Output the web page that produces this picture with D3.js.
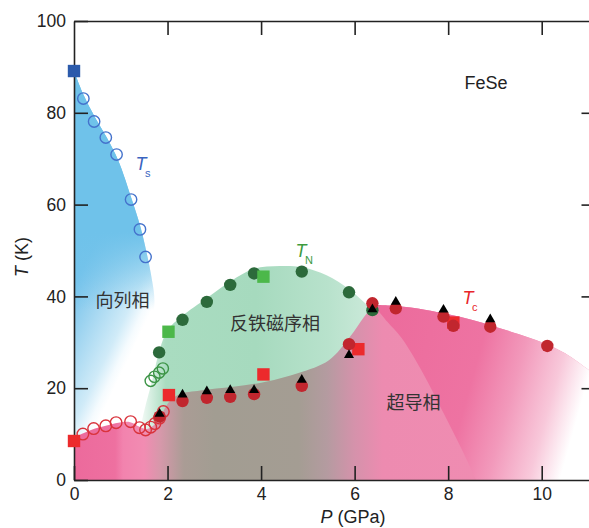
<!DOCTYPE html>
<html>
<head>
<meta charset="utf-8">
<script src="https://cdn.jsdelivr.net/npm/d3@7"></script>
<style>
  body { margin: 0; background: #fff; }
  svg { display: block; }
  text { font-family: "Liberation Sans", Arial, sans-serif; }
  .cn { font-family: "Noto Sans CJK SC", sans-serif; }
</style>
</head>
<body>
<svg id="chart" width="589" height="528"></svg>
<script>
// FeSe pressure phase diagram: [P (GPa), T (K)]

// Ts (nematic)
const tsSquare = [[0, 89.1]]
const tsOpen = [[0.2, 83.1], [0.43, 78.1], [0.68, 74.6], [0.91, 70.9], [1.22, 61.1], [1.41, 54.6], [1.53, 48.6]]

// TN (antiferro)
const tnOpen = [[1.64, 21.6], [1.72, 22.5], [1.82, 23.4], [1.9, 24.3]]
const tnFilled = [[1.82, 27.8], [2.32, 34.9], [2.84, 38.8], [3.34, 42.5], [3.85, 45.0], [4.87, 45.4], [5.88, 40.9], [6.38, 37.0]]
const tnSquare = [[2.02, 32.3], [4.05, 44.3]]

// Tc (superconducting)
const tcOpen = [[0.19, 10.0], [0.42, 11.2], [0.68, 11.8], [0.9, 12.5], [1.21, 12.7], [1.4, 11.4], [1.53, 10.9],
  [1.64, 11.5], [1.73, 12.3], [1.83, 13.5], [1.91, 14.9]]
const tcSquare = [[0, 8.5], [2.03, 18.5], [4.05, 23.0], [6.08, 28.5], [8.11, 34.3]]
const tcFilled = [[1.83, 13.8], [2.32, 17.2], [2.84, 17.9], [3.34, 18.1], [3.85, 18.7], [4.87, 20.5], [5.88, 29.6],
  [6.38, 38.5], [6.88, 37.4], [7.9, 35.6], [8.11, 33.6], [8.9, 33.4], [10.12, 29.2]]
const tcTriangle = [[1.83, 14.4], [2.32, 18.6], [2.84, 19.3], [3.34, 19.6], [3.85, 19.6], [4.87, 21.8], [5.88, 27.2],
  [6.38, 37.2], [6.88, 38.8], [7.9, 37.1], [8.9, 35.0]]

// phase boundaries (shaded regions)
const nematicEdge = [[0, 89.1], [0.2, 84], [0.45, 79], [0.7, 74.6], [0.95, 69.5], [1.22, 61.6], [1.42, 55.2], [1.56, 49.2],
  [1.66, 44], [1.72, 39], [1.62, 31], [1.42, 22], [1.18, 12], [1.0, 0]]
const afmEdge = [[1.35, 8], [1.5, 15], [1.68, 22], [1.83, 28.3], [2.0, 32.6], [2.3, 35.6], [2.85, 39.7], [3.35, 43.3],
  [3.85, 46.0], [4.4, 46.6], [4.9, 46.3], [5.4, 44.6], [5.88, 41.6], [6.15, 39.2], [6.45, 36.5]]
const scEdgeLeft = [[0, 9.2], [0.2, 10.2], [0.45, 11.2], [0.7, 11.9], [0.95, 12.5], [1.2, 12.6], [1.4, 11.6], [1.55, 11.1],
  [1.7, 11.9], [1.82, 13.2], [1.92, 15.2], [2.05, 17.2], [2.25, 18.7], [2.7, 19.5], [3.4, 20.3], [4.1, 21.4],
  [4.8, 23.3], [5.45, 26.1], [5.9, 31.2], [6.2, 35.5], [6.4, 38.2]]
const scEdgeRight = [[6.4, 38.2], [6.9, 37.9], [7.5, 37.1], [8.0, 36.1], [8.5, 34.9], [9.0, 33.4], [9.5, 31.8],
  [10.0, 30.0], [10.5, 27.6], [11.0, 24.0], [11.15, 22.8]]
const scInner = [[8.6, 0], [8.3, 6.5], [7.9, 14.6], [7.45, 23.5], [7.0, 31], [6.7, 34.5], [6.4, 38.2]]

const xTicks = [0, 2, 4, 6, 8, 10]
const yTicks = [0, 20, 40, 60, 80, 100]

const svg = d3.select("#chart")
const x = d3.scaleLinear().domain([0, 11.15]).range([74, 595.5])
const y = d3.scaleLinear().domain([0, 100]).range([480, 21])

const curve = d3.line().x(d => x(d[0])).y(d => y(d[1])).curve(d3.curveCatmullRom)
const pt = (p, t) => `L${x(p)},${y(t)}`

const defs = svg.append("defs")
const grad = (id, x1, y1, x2, y2, stops) => {
  const g = defs.append("linearGradient").attr("id", id).attr("gradientUnits", "userSpaceOnUse")
    .attr("x1", x1).attr("y1", y1).attr("x2", x2).attr("y2", y2)
  stops.forEach(s => g.append("stop").attr("offset", s[0]).attr("stop-color", s[1])
    .attr("stop-opacity", s[2] === undefined ? 1 : s[2]))
}

// blue fades toward lower right, upper part stays solid
grad("gBlue", 135.7, 64.8, 248.7, 118.8, [[0, "#6cc1ea"], [0.32, "#78c4ec"], [0.52, "#9ed4f0"], [0.79, "#d0ebf8"],
  [0.9, "#f5fbfe"], [0.96, "#ffffff"]])
grad("gBlueTop", 0, y(54), 0, y(37), [[0, "#6fc2ea", 1], [1, "#6fc2ea", 0]])
grad("gGreen", x(1.35), 0, x(6.45), 0, [[0, "#ffffff"], [0.12, "#a9dcc0"], [0.5, "#a6dabe"], [0.8, "#b8e2cc"], [1, "#cdeadb"]])
const sc = d => d / 11.15
grad("gSc", x(0), 0, x(11.15), 0, [[0, "#ec6a9c"], [sc(0.88), "#ee70a0"], [sc(1.05), "#f283ae"], [sc(1.5), "#f28cb2"],
  [sc(1.85), "#d698aa"], [sc(2.35), "#aa9c95"], [sc(3.0), "#a29d92"], [sc(4.8), "#a49d93"], [sc(5.4), "#b49ba0"],
  [sc(6.0), "#d592ab"], [sc(6.6), "#ed8bb0"], [1, "#f28db3"]])
const gx1 = x(6.4), gx2 = x(11.2)
grad("gDome", gx1, y(30), gx2, y(30) + (gx2 - gx1) * 0.28, [[0, "#ec6b9c"], [0.45, "#ee73a2"], [0.63, "#f299bb"],
  [0.8, "#f8c8da"], [0.93, "#ffffff"]])

// shaded regions
const nematicPath = curve(nematicEdge) + pt(0, 0) + "Z"
svg.append("path").attr("d", nematicPath).attr("fill", "url(#gBlue)")
svg.append("path").attr("d", nematicPath).attr("fill", "url(#gBlueTop)")

svg.append("path")
  .attr("d", curve(afmEdge) + pt(6.45, 0) + pt(1.35, 0) + "Z")
  .attr("fill", "url(#gGreen)")

svg.append("path")
  .attr("d", curve(scEdgeLeft) + curve(scEdgeRight).replace(/^M/, "L") + pt(11.15, 0) + pt(0, 0) + "Z")
  .attr("fill", "url(#gSc)")

svg.append("path")
  .attr("d", curve(scEdgeRight) + pt(11.15, 0) + curve(scInner).replace(/^M/, "L") + "Z")
  .attr("fill", "url(#gDome)")

// axes, ticks pointing inward
const axisStyle = g => {
  g.selectAll("path, line").attr("stroke", "#222").attr("stroke-width", 1.6)
  g.selectAll("text").attr("font-size", 17.5).attr("fill", "#222")
    .attr("font-family", "'Liberation Sans', Arial, sans-serif")
}
svg.append("g").attr("transform", "translate(0,480)")
  .call(d3.axisBottom(x).tickValues(xTicks).tickSize(-14).tickSizeOuter(0).tickPadding(8)).call(axisStyle)
svg.append("g").attr("transform", "translate(74,0)")
  .call(d3.axisLeft(y).tickValues(yTicks).tickSize(-14).tickSizeOuter(0).tickPadding(8)).call(axisStyle)
svg.append("g").attr("transform", "translate(0,21)")
  .call(d3.axisTop(x).tickValues(xTicks.slice(1)).tickSize(-14).tickSizeOuter(0).tickFormat("")).call(axisStyle)
svg.append("g").attr("transform", `translate(${x(11.15)},0)`)
  .call(d3.axisRight(y).tickValues(yTicks.slice(1, 5)).tickSize(-14).tickSizeOuter(0).tickFormat("")).call(axisStyle)

// axis titles
const xt = svg.append("text").attr("x", 353).attr("y", 523).attr("text-anchor", "middle")
  .attr("font-size", 18).attr("fill", "#222")
xt.append("tspan").attr("font-style", "italic").text("P")
xt.append("tspan").text(" (GPa)")
const yt = svg.append("text").attr("transform", "translate(28,257) rotate(-90)").attr("text-anchor", "middle")
  .attr("font-size", 18).attr("fill", "#222")
yt.append("tspan").attr("font-style", "italic").text("T")
yt.append("tspan").text(" (K)")

// markers
const circles = (data, r, fill, stroke) => svg.append("g").selectAll("circle").data(data).join("circle")
  .attr("cx", d => x(d[0])).attr("cy", d => y(d[1])).attr("r", r)
  .attr("fill", fill).attr("stroke", stroke).attr("stroke-width", stroke === "none" ? 0 : 1.4)
const squares = (data, fill) => svg.append("g").selectAll("rect").data(data).join("rect")
  .attr("x", d => x(d[0]) - 6.2).attr("y", d => y(d[1]) - 6.2).attr("width", 12.4).attr("height", 12.4)
  .attr("fill", fill)

circles(tsOpen, 5.7, "none", "#4472cc")
squares(tsSquare, "#2b5aab")
circles(tcOpen, 5.8, "none", "#d9333c")
circles(tnOpen, 5.6, "none", "#3c9446")
circles(tnFilled, 6.2, "#2c6a3b", "none")
squares(tnSquare, "#4cb84a")
squares(tcSquare, "#ec2a2c")
circles(tcFilled, 6.2, "#c1262e", "none")
svg.append("g").selectAll("path").data(tcTriangle).join("path")
  .attr("transform", d => `translate(${x(d[0])},${y(d[1])})`)
  .attr("d", d3.symbol().type(d3.symbolTriangle).size(44))
  .attr("fill", "#000")

// labels
svg.append("text").attr("x", 464.5).attr("y", 89).attr("font-size", 18).attr("fill", "#222").text("FeSe")

const tLabel = (px, py, sub, color) => {
  svg.append("text").attr("x", px).attr("y", py).attr("font-size", 18).attr("font-style", "italic")
    .attr("fill", color).text("T")
  svg.append("text").attr("x", px + 9.5).attr("y", py + 7).attr("font-size", 11).attr("fill", color).text(sub)
}
tLabel(135.5, 170, "s", "#3a64c0")
tLabel(295.5, 256.5, "N", "#3d9b3f")
tLabel(462.5, 304.3, "c", "#e8262b")

const cn = (px, py, s) => svg.append("text").attr("class", "cn").attr("x", px).attr("y", py)
  .attr("font-size", 18).attr("fill", "#333").text(s)
cn(95.5, 307, "向列相")
cn(230, 329.5, "反铁磁序相")
cn(386.5, 408.5, "超导相")
</script>
</body>
</html>
